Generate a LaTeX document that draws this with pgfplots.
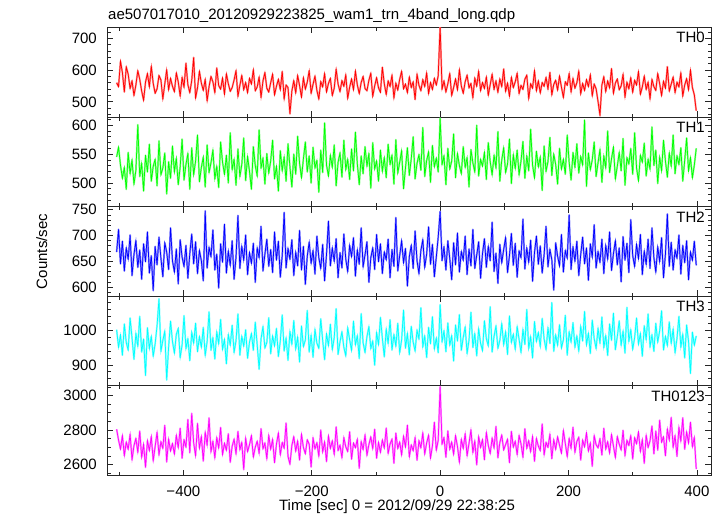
\documentclass[border=0pt]{standalone}
\usepackage{fontspec}
\setmainfont{Liberation Sans}
\usepackage{pgfplots}
\pgfplotsset{compat=1.18}
\usepackage{pgfplotstable}
\definecolor{cR}{RGB}{255,0,0}
\definecolor{cG}{RGB}{0,255,0}
\definecolor{cB}{RGB}{0,0,255}
\definecolor{cC}{RGB}{0,255,255}
\definecolor{cM}{RGB}{255,0,255}
\pgfplotstableread{
a b c d e
560 545 668 1002 2805
548 562 712 951 2742
628 531 645 987 2690
592 508 689 928 2768
531 527 631 1019 2652
610 489 676 965 2731
587 553 654 943 2689
542 516 701 1036 2776
566 540 622 978 2628
520 498 663 916 2710
553 522 690 992 2752
598 601 638 954 2671
571 511 672 1041 2795
534 534 615 937 2643
505 486 684 975 2718
562 548 649 869 2584
589 519 707 1008 2739
547 567 627 947 2681
612 503 661 983 2763
558 529 593 925 2622
527 541 679 961 2705
541 495 643 1014 2787
583 573 697 1092 2656
569 514 656 939 2733
509 526 620 971 2694
556 552 686 998 2828
601 481 668 856 2615
538 537 634 952 2748
574 508 715 1027 2679
549 564 651 968 2722
532 519 629 934 2661
591 543 674 989 2770
563 497 606 1006 2698
518 528 692 921 2811
577 576 658 958 2637
546 505 640 1043 2744
622 532 681 947 2702
554 551 617 976 2862
529 489 665 912 2668
567 561 703 995 2897
640 514 645 963 2726
512 538 688 1021 2651
544 583 626 938 2839
596 502 671 982 2695
559 527 651 951 2763
536 545 612 1009 2620
571 493 748 927 2788
503 566 637 968 2712
548 518 677 1054 2871
580 535 659 942 2674
563 557 711 979 2735
529 507 633 917 2639
607 529 664 996 2757
551 492 598 961 2696
540 571 684 1032 2815
575 536 648 945 2658
524 515 722 974 2724
588 548 627 903 2683
557 500 670 988 2779
533 587 642 957 2613
545 523 690 1015 2707
569 541 615 936 2748
598 496 658 970 2662
517 559 739 1048 2793
552 511 636 928 2686
583 532 679 983 2729
538 578 652 954 2571
561 504 701 1002 2754
529 546 624 919 2675
574 520 667 966 2716
556 489 646 991 2768
601 563 685 942 2644
535 530 609 1024 2701
547 512 676 958 2736
578 592 657 887 2665
514 526 718 976 2809
566 543 631 1011 2692
592 498 664 949 2725
543 551 693 965 2634
531 517 640 1037 2770
560 538 673 932 2689
587 574 628 984 2746
522 507 707 955 2611
549 529 652 1006 2719
571 486 689 924 2783
538 556 619 969 2657
596 521 661 1045 2728
509 545 745 940 2695
553 503 637 978 2841
545 568 675 913 2648
462 528 654 997 2603
534 493 692 960 2711
567 550 622 1029 2762
528 515 668 946 2678
583 581 641 981 2737
551 534 710 908 2626
515 509 633 1013 2776
576 542 679 953 2699
540 571 605 972 2663
562 519 660 1058 2744
598 547 687 937 2718
527 500 646 986 2586
555 562 671 922 2755
581 526 625 1003 2691
536 539 699 963 2727
509 484 657 948 2649
564 557 636 1034 2801
547 518 683 971 2673
589 604 612 915 2732
531 531 664 990 2617
558 512 728 956 2766
574 548 641 1018 2694
520 527 676 944 2738
543 566 650 979 2659
603 495 694 1063 2819
556 536 618 930 2682
532 552 667 967 2713
567 510 637 996 2640
549 574 703 951 2757
585 523 654 926 2703
511 541 630 1008 2676
546 506 681 973 2791
572 559 659 942 2631
538 521 696 1027 2725
597 588 621 958 2698
553 533 672 985 2747
526 497 644 918 2578
561 547 715 1049 2734
580 516 639 964 2687
542 563 663 936 2772
535 529 688 982 2654
568 551 609 1011 2716
590 491 657 947 2761
517 570 676 969 2692
550 524 634 899 2805
576 538 702 994 2637
544 503 649 959 2729
530 557 684 1038 2671
609 520 626 977 2743
557 544 668 923 2696
523 509 653 1004 2812
566 567 693 962 2665
548 532 618 1031 2720
584 548 673 943 2748
512 498 640 988 2608
559 575 735 954 2783
537 517 631 1021 2693
571 536 661 935 2731
596 556 690 973 2656
541 490 647 1059 2765
556 526 675 948 2702
529 561 602 991 2829
578 513 659 929 2645
545 542 681 1012 2714
563 580 636 966 2680
507 507 709 940 2757
587 534 651 1001 2625
552 549 626 975 2739
535 522 671 1066 2697
570 596 692 952 2784
548 511 638 984 2661
591 539 664 921 2726
526 554 717 1009 2770
561 501 644 961 2638
539 565 683 1040 2709
574 528 620 946 2846
553 543 658 978 2683
582 519 697 935 2741
738 612 747 1075 3052
540 532 651 967 2719
566 547 678 999 2757
531 497 633 938 2642
557 560 690 1022 2796
589 524 655 957 2688
520 538 614 985 2731
545 585 686 911 2660
572 509 643 1016 2768
538 551 705 969 2705
601 530 629 1046 2614
550 516 669 942 2747
527 563 652 980 2693
563 527 699 1010 2779
584 544 624 933 2651
544 493 674 972 2724
558 558 641 1053 2801
513 535 712 950 2670
575 519 636 991 2737
549 600 662 926 2598
596 512 688 1005 2762
535 541 617 963 2699
561 529 665 941 2745
542 553 694 1028 2628
578 506 638 976 2786
521 570 679 955 2712
554 537 651 1069 2664
587 514 726 937 2754
539 548 630 983 2696
566 526 666 1013 2822
530 589 607 948 2639
572 503 683 971 2728
548 540 647 1020 2771
604 561 673 958 2685
533 518 696 996 2716
559 533 628 930 2747
518 576 661 1042 2611
577 499 704 965 2793
545 549 642 989 2701
563 525 685 945 2736
590 557 619 1011 2658
526 514 670 974 2769
552 538 657 936 2720
539 572 732 1003 2643
571 508 635 959 2808
584 547 676 1061 2694
510 521 648 947 2739
557 593 691 982 2675
543 531 611 920 2763
598 509 667 1026 2619
535 555 699 968 2752
566 528 644 994 2707
528 545 680 953 2681
561 487 627 1035 2836
549 564 663 975 2657
577 520 718 944 2729
540 537 639 1008 2700
593 579 673 962 2776
522 513 653 1081 2634
555 550 594 939 2745
568 532 686 987 2688
537 498 660 957 2761
581 560 641 1017 2712
546 524 702 949 2666
514 541 629 973 2798
563 515 671 1044 2723
552 583 656 928 2646
589 536 740 996 2752
531 505 634 966 2694
574 553 678 1023 2817
543 527 650 951 2671
560 568 689 984 2734
597 517 622 940 2759
525 546 663 1012 2626
558 531 697 969 2742
536 609 645 1055 2703
570 494 676 958 2784
548 552 613 992 2679
585 523 684 933 2725
519 540 658 1030 2590
556 571 721 976 2768
541 511 637 947 2715
501 535 669 1006 2697
458 558 648 963 2750
553 501 693 1039 2655
579 547 626 950 2811
532 526 681 985 2689
566 590 654 927 2733
544 518 707 1019 2667
605 542 632 971 2774
527 562 665 1050 2708
559 507 690 944 2641
572 529 643 982 2763
538 553 676 1028 2718
550 521 610 957 2685
587 577 698 998 2799
515 496 652 934 2652
562 544 685 1067 2741
541 533 628 968 2711
576 560 731 1002 2767
530 515 661 945 2632
568 587 640 979 2756
553 526 683 1036 2721
595 504 655 960 2789
524 548 702 991 2676
547 536 624 925 2745
581 569 670 1014 2607
539 512 644 973 2770
562 541 693 1048 2699
509 524 636 952 2738
571 597 715 987 2824
548 530 657 939 2662
536 557 629 1021 2795
589 499 678 966 2683
557 545 649 999 2858
520 521 696 1057 2730
565 574 618 943 2761
543 538 664 983 2651
611 510 742 956 2806
534 552 640 1025 2742
556 529 687 962 2874
578 583 633 1004 2700
529 516 672 935 2768
562 547 656 977 2647
547 532 701 1041 2817
591 561 625 951 2736
518 503 681 989 2872
553 539 647 920 2689
573 578 690 1016 2790
538 521 614 968 2725
600 544 668 875 2846
545 509 652 995 2704
522 531 689 957 2758
472 560 642 984 2574
}\data

\pgfplotsset{
  panel/.style={
    scale only axis, width=604pt, height=89.6pt,
    anchor=north west,
    xmin=-519, xmax=422,
    xtick={-400,-200,0,200,400},
    minor xtick={-500,-300,-100,100,300},
    xticklabels={},
    tick align=inside, xtick pos=both, ytick pos=both,
    yticklabel pos=left, xticklabel pos=lower,
    major tick length=6pt, minor tick length=3.5pt,
    axis line style={black!85, line width=0.9pt},
    every tick/.append style={black!85, line width=0.7pt},
    tick label style={font=\fontsize{15}{18}\selectfont, inner sep=0pt},
    yticklabel style={xshift=-10pt},
    xticklabel style={yshift=-10pt},
    /pgf/number format/assume math mode=true,
    /pgf/number format/1000 sep={},
  },
  halo/.style={draw=#1!45, line width=1.8pt, mark=none, forget plot, sharp plot, line join=round},
  main/.style={draw=#1, line width=0.7pt, mark=none, sharp plot},
}
\newcommand{\lab}[1]{\node[anchor=base east, inner sep=0pt, font=\fontsize{15}{18}\selectfont, xshift=-6pt, yshift=-15.5pt] at (rel axis cs:1,1) {#1};}

\begin{document}
\begin{tikzpicture}
\path[use as bounding box] (0pt,0pt) rectangle (723pt,-516pt);

\begin{axis}[panel, at={(107pt,-27.5pt)}, ymin=452, ymax=734,
  ytick={500,600,700}, minor ytick={460,480,...,720}]
\addplot[halo=cR] table[x expr=\coordindex*3-504, y=a] {\data};
\addplot[main=cR] table[x expr=\coordindex*3-504, y=a] {\data};
\lab{TH0}
\end{axis}

\begin{axis}[panel, at={(107pt,-117.1pt)}, ymin=459, ymax=614,
  ytick={500,550,600}, minor ytick={460,470,...,610}]
\addplot[halo=cG] table[x expr=\coordindex*3-504, y=b] {\data};
\addplot[main=cG] table[x expr=\coordindex*3-504, y=b] {\data};
\lab{TH1}
\end{axis}

\begin{axis}[panel, at={(107pt,-206.7pt)}, ymin=582, ymax=756,
  ytick={600,650,700,750}, minor ytick={590,600,...,750}]
\addplot[halo=cB] table[x expr=\coordindex*3-504, y=c] {\data};
\addplot[main=cB] table[x expr=\coordindex*3-504, y=c] {\data};
\lab{TH2}
\end{axis}

\begin{axis}[panel, at={(107pt,-296.3pt)}, ymin=839, ymax=1099,
  ytick={900,1000}, minor ytick={840,860,...,1080}]
\addplot[halo=cC] table[x expr=\coordindex*3-504, y=d] {\data};
\addplot[main=cC] table[x expr=\coordindex*3-504, y=d] {\data};
\lab{TH3}
\end{axis}

\begin{axis}[panel, at={(107pt,-385.9pt)}, ymin=2537, ymax=3056,
  ytick={2600,2800,3000}, minor ytick={2550,2600,...,3050},
  xticklabels={−400,−200,0,200,400}]
\addplot[halo=cM] table[x expr=\coordindex*3-504, y=e] {\data};
\addplot[main=cM] table[x expr=\coordindex*3-504, y=e] {\data};
\lab{TH0123}
\end{axis}

\node[anchor=base west, inner sep=0pt, font=\fontsize{15}{18}\selectfont] at (108pt,-19.5pt) {ae507017010\_20120929223825\_wam1\_trn\_4band\_long.qdp};
\node[anchor=base, rotate=90, inner sep=0pt, font=\fontsize{15}{18}\selectfont] at (47pt,-251.5pt) {Counts/sec};
\node[anchor=base, inner sep=0pt, font=\fontsize{15}{18}\selectfont] at (397pt,-510pt) {Time [sec] 0 = 2012/09/29 22:38:25};
\end{tikzpicture}
\end{document}
